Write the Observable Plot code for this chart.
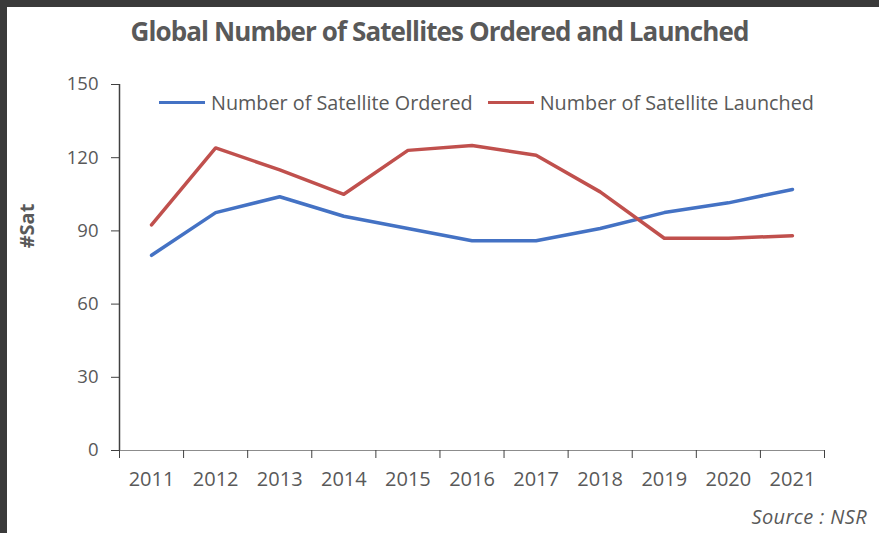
<!DOCTYPE html>
<html><head><meta charset="utf-8">
<script src="https://cdn.jsdelivr.net/npm/d3@7"></script>
<script src="https://cdn.jsdelivr.net/npm/@observablehq/plot@0.6"></script>
<style>
body{margin:0;background:#fff}
#wrap{position:relative;width:879px;height:533px;overflow:hidden;background:#fff;font-family:"Open Sans",sans-serif;color:#595959}
.band{position:absolute;background:#3a3a3a}
#chart{position:absolute;left:0;top:0}
#title{position:absolute;left:0;width:879px;top:13px;text-align:center;font-size:26px;font-weight:bold;color:#595959;white-space:nowrap;letter-spacing:-0.9px}
#ylab{position:absolute;left:26px;top:226px;transform:translate(-50%,-50%) rotate(-90deg);font-size:20px;font-weight:bold;color:#595959;white-space:nowrap}
#legend{position:absolute;left:159px;top:89px;display:flex;align-items:center;font-size:19.8px;color:#595959;white-space:nowrap}
.sw{display:inline-block;width:46px;height:3.5px;margin-right:6px}
.item{display:flex;align-items:center;margin-right:15px}
#source{position:absolute;right:12px;top:503px;font-size:20px;font-style:italic;color:#595959;letter-spacing:0.4px}
</style></head><body>
<div id="wrap">
 <div id="chart"></div>
 <div class="band" style="left:0;top:0;width:879px;height:7px"></div>
 <div class="band" style="left:0;top:0;width:7px;height:533px"></div>
 <div id="title">Global Number of Satellites Ordered and Launched</div>
 <div id="ylab">#Sat</div>
 <div id="legend"></div>
 <div id="source">Source : NSR</div>
</div>
<script>
const years = [2011, 2012, 2013, 2014, 2015, 2016, 2017, 2018, 2019, 2020, 2021];
const ordered = [80, 97.5, 104, 96, 91, 86, 86, 91, 97.5, 101.5, 107];
const launched = [92.5, 124, 115, 105, 123, 125, 121, 106, 87, 87, 88];
const seriesNames = ["Number of Satellite Ordered", "Number of Satellite Launched"];
const seriesColors = ["#4472C4", "#C0504D"];
const yTicks = [0, 30, 60, 90, 120, 150];

const data = years.flatMap((y, i) => [
  {year: y, value: ordered[i], series: seriesNames[0]},
  {year: y, value: launched[i], series: seriesNames[1]}
]);
const edges = [...years.map(y => y - 0.5), years[years.length - 1] + 0.5];

const chart = Plot.plot({
  width: 879, height: 533,
  marginLeft: 119, marginRight: 55, marginTop: 84, marginBottom: 83,
  style: {fontFamily: "'Open Sans', sans-serif", fontSize: "19px", color: "#595959", background: "transparent"},
  x: {domain: [edges[0], edges[edges.length - 1]]},
  y: {domain: [yTicks[0], yTicks[yTicks.length - 1]]},
  color: {domain: seriesNames, range: seriesColors},
  marks: [
    Plot.ruleY([yTicks[0]], {stroke: "#8c8c8c", strokeWidth: 1.2}),
    Plot.ruleX([edges[0]], {stroke: "#404040", strokeWidth: 1.5}),
    Plot.axisX(edges, {tickSize: 8, tickFormat: () => "", stroke: "#404040", label: null}),
    Plot.axisX(years, {tickSize: 0, tickPadding: 21, tickFormat: d => String(d), fill: "#595959", fontSize: 20, label: null}),
    Plot.axisY(yTicks, {tickSize: 8, tickPadding: 13, stroke: "#404040", fill: "#595959", fontSize: 18.5, label: null}),
    Plot.line(data, {x: "year", y: "value", stroke: "series", strokeWidth: 3.5, z: "series"})
  ]
});
document.getElementById("chart").appendChild(chart);

const legend = document.getElementById("legend");
seriesNames.forEach((n, i) => {
  const it = document.createElement("div");
  it.className = "item";
  it.innerHTML = `<span class="sw" style="background:${seriesColors[i]}"></span><span>${n}</span>`;
  legend.appendChild(it);
});
</script>
</body></html>
